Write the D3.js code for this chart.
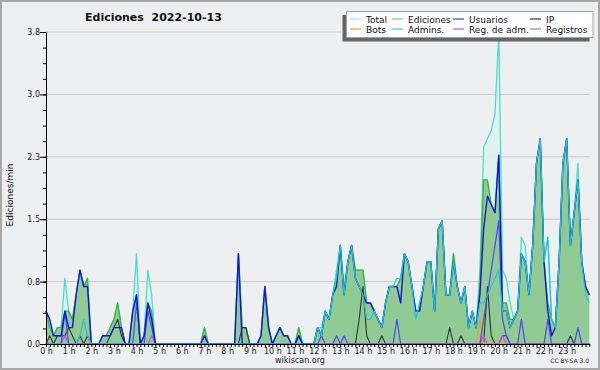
<!DOCTYPE html>
<html>
<head>
<meta charset="utf-8">
<script src="https://cdn.jsdelivr.net/npm/d3@7"></script>
<style>
body { margin: 0; background: #fff; }
svg { display: block; font-family: "DejaVu Sans", sans-serif; }
</style>
</head>
<body>
<div id="chart"></div>
<script>
// 10-minute slots, 0 h .. 24 h (145 points), edits per minute
var total = [
  0.4,0.2,0.1,0.2,0.2,0.8,0.4,0.3,0.6,0.9,0.7,0.8,
  0,0,0,0.1,0.1,0.2,0.3,0.5,0.2,0,0,0.4,
  1.1,0,0.1,0.9,0.6,0,0,0,0,0,0,0,
  0,0,0,0,0,0,0.2,0,0,0,0,0,
  0,0,0,1.1,0.2,0.2,0,0,0,0.1,0.7,0.2,
  0,0.1,0.2,0.1,0.1,0,0,0.2,0,0,0,0,
  0.2,0.2,0.4,0.3,0.6,0.9,1.2,0.7,1.0,1.2,0.9,0.9,
  0.9,0.5,0.5,0.4,0.3,0.2,0.5,0.7,0.7,0.7,0.8,1.1,
  1.0,0.7,0.4,0.4,0.7,1.0,1.0,0.4,1.4,1.5,0.6,0.6,
  1.1,0.7,0.5,0.7,0.2,0.4,0.2,0.9,2.4,2.5,2.6,2.8,
  3.8,0.9,0.8,0.5,0.3,0.4,1.3,1.2,0.6,1.2,2.2,2.5,
  1.0,1.3,0.3,0.2,1.0,2.2,2.5,1.2,1.6,2.2,1.0,0.7,
  0.6];
var ediciones = [
  0.4,0.2,0.1,0.2,0.2,0.4,0.4,0.3,0.6,0.9,0.7,0.8,
  0,0,0,0.1,0.1,0.2,0.3,0.5,0.2,0,0,0.4,
  0.6,0,0.1,0.5,0.4,0,0,0,0,0,0,0,
  0,0,0,0,0,0,0.2,0,0,0,0,0,
  0,0,0,1.1,0.2,0.2,0,0,0,0.1,0.7,0.2,
  0,0.1,0.2,0.1,0.1,0,0,0.2,0,0,0,0,
  0.2,0.1,0.4,0.3,0.6,0.8,1.2,0.6,1.0,1.2,0.9,0.9,
  0.9,0.5,0.5,0.4,0.3,0.2,0.5,0.7,0.7,0.7,0.8,1.1,
  1.0,0.7,0.4,0.4,0.7,1.0,1.0,0.4,1.4,1.5,0.6,0.6,
  1.1,0.7,0.5,0.7,0.2,0.4,0.2,0.7,2.0,2.0,1.7,1.6,
  2.3,0.5,0.5,0.3,0.3,0.4,1.1,1.0,0.6,1.2,2.2,2.5,
  1.0,0.5,0.3,0.2,1.0,2.2,2.5,1.2,1.6,2.0,1.0,0.7,
  0.6];
var usuarios = [
  0.4,0.3,0.1,0.1,0.1,0.4,0.2,0.2,0.6,0.9,0.7,0.7,
  0,0,0,0.1,0.1,0.1,0.2,0.2,0.2,0,0,0.4,
  0.6,0,0.1,0.5,0.3,0,0,0,0,0,0,0,
  0,0,0,0,0,0,0.1,0,0,0,0,0,
  0,0,0,1.1,0,0,0,0,0,0.1,0.7,0.2,
  0,0.1,0.2,0.1,0.1,0,0,0.1,0,0,0,0,
  0.2,0.1,0.4,0.3,0.6,0.7,1.2,0.6,1.0,1.2,0.8,0.7,
  0.6,0.5,0.5,0.4,0.3,0.2,0.5,0.7,0.7,0.7,0.5,1.1,
  1.0,0.7,0.4,0.4,0.7,1.0,1.0,0.4,1.4,1.5,0.6,0.6,
  1.0,0.7,0.5,0.7,0.2,0.4,0.2,0.6,1.4,1.8,1.7,1.6,
  2.3,0.4,0.4,0.2,0.3,0.4,1.1,1.0,0.6,1.2,2.2,2.5,
  1.0,0.4,0.1,0.2,1.0,2.2,2.5,1.2,1.6,2.0,1.0,0.7,
  0.6];
var ip = [
  0,0.1,0,0.1,0.1,0.1,0.2,0.1,0,0.1,0,0.1,
  0,0,0,0,0,0.1,0.2,0.3,0.1,0,0,0,
  0,0,0,0,0,0,0,0,0,0,0,0,
  0,0,0,0,0,0,0,0,0,0,0,0,
  0,0,0,0,0.2,0.2,0,0,0,0,0,0,
  0,0,0,0,0,0,0,0.1,0,0,0,0,
  0,0,0,0,0,0,0,0,0,0,0,0.3,
  0.7,0.1,0,0,0,0.1,0,0,0,0,0,0,
  0,0,0,0,0,0,0,0,0,0,0,0.2,
  0,0,0.1,0,0,0,0,0,0,0.7,0.1,0,
  0,0.1,0.1,0,0,0,0,0,0,0,0,0,
  0,0,0,0,0,0,0,0.1,0,0,0,0,
  0];
var bots = [
  0,0,0,0,0,0,0,0,0,0,0,0,
  0,0,0,0,0,0,0,0,0,0,0,0,
  0,0,0,0,0,0,0,0,0,0,0,0,
  0,0,0,0,0,0,0.1,0,0,0,0,0,
  0,0,0,0,0,0,0,0,0,0,0,0,
  0,0,0,0,0,0,0,0,0,0,0,0,
  0,0,0,0,0,0,0,0,0,0,0,0,
  0,0,0,0,0,0,0,0,0,0,0,0,
  0,0,0,0,0,0,0,0,0,0,0,0,
  0,0,0,0,0,0,0,0.3,0,0,0,0,
  0,0,0,0,0,0,0,0,0,0,0,0,
  0,0,0,0,0,0,0,0,0,0,0,0,
  0];
var admins = [
  0,0,0,0,0,0,0,0,0,0.1,0.3,0.1,
  0,0,0,0,0,0,0,0,0,0,0,0,
  0,0,0,0,0,0,0,0,0,0,0,0,
  0,0,0,0,0,0,0,0,0,0,0,0,
  0,0,0,0,0,0,0,0,0,0,0,0,
  0,0,0,0,0,0,0,0,0,0,0,0,
  0.2,0.1,0.4,0.3,0.6,0.8,1.2,0.6,1.0,1.2,0.8,0.7,
  0.6,0.3,0.3,0.4,0.3,0.2,0.5,0.7,0.7,0.8,0.8,1.1,
  1.0,0.7,0.3,0.5,0.7,1.0,1.0,0.4,1.4,1.5,0.6,0.6,
  1.0,0.7,0.5,0.7,0.2,0.4,0.2,0.5,0.5,0.6,0.7,0.8,
  0.9,0.4,0.4,0.2,0.3,0.4,1.1,1.0,0.6,1.2,2.2,2.5,
  1.0,1.3,0.3,0.2,1.0,2.2,2.5,1.2,1.6,2.0,1.0,0.6,
  0.5];
var regAdm = [
  0,0,0,0,0,0.1,0,0,0,0,0,0,
  0,0,0,0,0,0,0,0,0,0,0,0,
  0,0,0,0,0.1,0,0,0,0,0,0,0,
  0,0,0,0,0,0,0,0,0,0,0,0,
  0,0,0,0,0,0,0,0,0,0,0,0,
  0,0,0,0,0,0,0,0,0,0,0,0,
  0,0,0,0,0,0,0,0,0,0,0,0,
  0,0,0,0,0,0,0,0,0,0,0,0,
  0,0,0,0,0,0,0,0,0,0,0,0,
  0,0,0,0,0,0,0,0,0.1,0,0,0,
  0,0.1,0,0,0,0,0,0,0,0,0,0,
  0,0,0,0,0,0,0,0,0,0,0,0,
  0];
var registros = [
  0,0,0,0,0,0.4,0,0,0,0,0,0,
  0,0,0,0,0,0,0,0,0,0,0,0,
  0.5,0,0,0.4,0.2,0,0,0,0,0,0,0,
  0,0,0,0,0,0,0,0,0,0,0,0,
  0,0,0,0,0,0,0,0,0,0,0,0,
  0,0,0,0,0,0,0,0,0,0,0,0,
  0,0.1,0,0,0,0.1,0,0.1,0,0,0,0,
  0,0,0,0,0,0,0,0,0,0.3,0,0,
  0,0,0,0,0,0,0,0,0,0,0,0,
  0,0,0,0,0,0,0,0,0.3,0.6,0.9,1.2,
  1.5,0.3,0.1,0,0,0,0.3,0,0,0,0,0,
  0,0.3,0,0,0,0,0,0,0,0.2,0,0,
  0];

var yTicks = [0, 0.76, 1.52, 2.28, 3.04, 3.8];
var yLabels = ["0.0", "0.8", "1.5", "2.3", "3.0", "3.8"];
var legendNames = ["Total", "Ediciones", "Usuarios", "IP", "Bots", "Admins.", "Reg. de adm.", "Registros"];
var legendColors = ["#a6eadf", "#7fcc7f", "#3a3ae6", "#333333", "#f59a2a", "#3cc8dc", "#d24fe0", "#7f7ff2"];

var width = 600, height = 370;

var svg = d3.select("#chart")
    .append("svg")
    .attr("width", width)
    .attr("height", height);

// background + frame
svg.append("rect")
    .attr("x", 1).attr("y", 1)
    .attr("width", width - 2).attr("height", height - 2)
    .attr("fill", "#eeeff0")
    .attr("stroke", "#a8a8a8")
    .attr("stroke-width", 2);

var x = d3.scaleLinear().domain([0, 144]).range([46, 589.3]);
var y = d3.scaleLinear().domain([0, 3.8]).range([344, 32]);

// grid lines
svg.append("g").selectAll("line")
    .data(yTicks.slice(1))
    .enter().append("line")
    .attr("x1", x(0)).attr("x2", x(144))
    .attr("y1", function (d) { return y(d); })
    .attr("y2", function (d) { return y(d); })
    .attr("stroke", "#c9c9c9")
    .attr("stroke-width", 1);

var line = d3.line()
    .x(function (d, i) { return x(i); })
    .y(function (d) { return y(d); });
var area = d3.area()
    .x(function (d, i) { return x(i); })
    .y0(y(0))
    .y1(function (d) { return y(d); });

// filled series
svg.append("path").attr("d", area(total))
    .attr("fill", "#dcf3ee").attr("opacity", 0.9);
svg.append("path").attr("d", area(ediciones))
    .attr("fill", "#90cb93");

function drawLine(data, color, w) {
    svg.append("path")
        .attr("d", line(data))
        .attr("fill", "none")
        .attr("stroke", color)
        .attr("stroke-width", w)
        .attr("stroke-linejoin", "round");
}
drawLine(total, "#4fdcc6", 1.3);
drawLine(ediciones, "#3bb03b", 1.3);
drawLine(ip, "#333333", 1.1);
drawLine(bots, "#f59a2a", 1.2);
drawLine(regAdm, "#d24fe0", 1.2);
drawLine(registros, "#4a4af0", 1.2);
drawLine(usuarios, "#1414dc", 1.4);
drawLine(admins, "#27c3dc", 1.2);

// axes
var xAxis = d3.axisBottom(x)
    .tickValues(d3.range(0, 145))
    .tickSize(3)
    .tickSizeOuter(0)
    .tickPadding(1)
    .tickFormat(function (d) { return (d % 6 === 0 && d < 144) ? (d / 6) + " h" : ""; });
var gx = svg.append("g")
    .attr("transform", "translate(0," + y(0) + ")")
    .call(xAxis);
gx.selectAll("text").style("font-size", "8px").style("font-family", "DejaVu Sans, sans-serif").attr("fill", "#222");

var yAxisMinor = d3.axisLeft(y)
    .tickValues(d3.range(0, 20).map(function (k) { return k * 0.19; }))
    .tickSize(3)
    .tickSizeOuter(0)
    .tickFormat("");
svg.append("g")
    .attr("transform", "translate(" + x(0) + ",0)")
    .call(yAxisMinor);

var yAxis = d3.axisLeft(y)
    .tickValues(yTicks)
    .tickSize(6)
    .tickSizeOuter(0)
    .tickPadding(0)
    .tickFormat(function (d, i) { return yLabels[i]; });
var gy = svg.append("g")
    .attr("transform", "translate(" + x(0) + ",0)")
    .call(yAxis);
gy.selectAll("text").style("font-size", "8px").style("font-family", "DejaVu Sans, sans-serif").attr("fill", "#222");

// title
svg.append("text")
    .attr("x", 85).attr("y", 21)
    .style("font-size", "11px")
    .style("font-weight", "bold")
    .style("white-space", "pre")
    .attr("fill", "#111")
    .text("Ediciones  2022-10-13");

// y label
svg.append("text")
    .attr("transform", "translate(13,195) rotate(-90)")
    .style("text-anchor", "middle")
    .style("font-size", "9px")
    .attr("fill", "#111")
    .text("Ediciones/min");

// footer
svg.append("text")
    .attr("x", 300).attr("y", 363)
    .style("text-anchor", "middle")
    .style("font-size", "8px")
    .attr("fill", "#222")
    .text("wikiscan.org");
svg.append("text")
    .attr("x", 589).attr("y", 363)
    .style("text-anchor", "end")
    .style("font-size", "6px")
    .attr("fill", "#222")
    .text("CC BY-SA 3.0");

// legend
var lg = svg.append("g");
lg.append("rect")
    .attr("x", 342.5).attr("y", 15).attr("width", 247).attr("height", 26.5)
    .attr("fill", "#666");
lg.append("rect")
    .attr("x", 346.5).attr("y", 11.5).attr("width", 246.5).attr("height", 26)
    .attr("fill", "#ffffff")
    .attr("stroke", "#a0a0a0");
var colX = [350, 392, 453, 530];
var rowY = [19, 29];
legendNames.forEach(function (name, k) {
    var cx = colX[k % 4], cy = rowY[Math.floor(k / 4)];
    lg.append("line")
        .attr("x1", cx).attr("x2", cx + 11)
        .attr("y1", cy).attr("y2", cy)
        .attr("stroke", legendColors[k])
        .attr("stroke-width", 1.2);
    lg.append("text")
        .attr("x", cx + 16).attr("y", cy + 3.5)
        .style("font-size", "9px")
        .attr("fill", "#111")
        .text(name);
});
</script>
</body>
</html>
